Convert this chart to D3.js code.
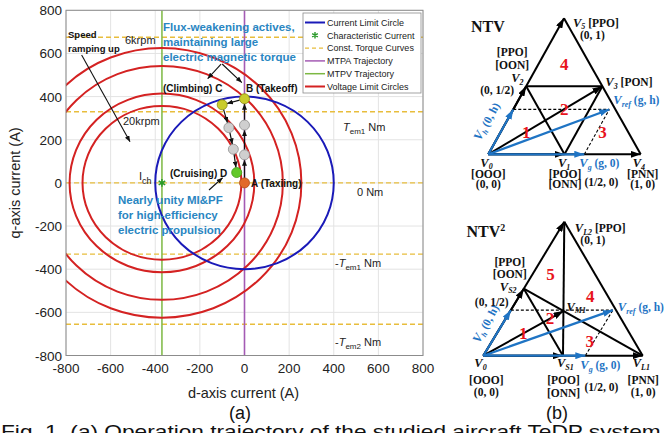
<!DOCTYPE html>
<html>
<head>
<meta charset="utf-8">
<script src="https://cdn.jsdelivr.net/npm/d3@7"></script>
<style>
  body { margin: 0; background: #fff; }
  svg { display: block; }
</style>
</head>
<body>
<svg id="fig" width="668" height="433"></svg>
<script>
// ---------- data for (a) ----------
const xTicks = [-800, -600, -400, -200, 0, 200, 400, 600, 800];
const yTicks = [-800, -600, -400, -200, 0, 200, 400, 600, 800];
const iCh = -370;                         // characteristic current (d-axis)
const currentLimitRadius = 400;
const voltageRadii = [625, 542, 414, 356]; // 6krpm ... 20krpm
const torqueLevels = [675, 330, 0, -330, -655];
const mtpaD = 0;

// operating trajectory A -> B -> C -> D
const trajD = [0, 0, 0, 0, -100, -70, -50, -35];
const trajQ = [0, 130, 268, 390, 362, 256, 156, 48];
const trajKind = ['A', 'mid', 'mid', 'B', 'C', 'mid', 'mid', 'D'];

const legendItems = ['Current Limit Circle', 'Characteristic Current', 'Const. Torque Curves',
  'MTPA Trajectory', 'MTPV Trajectory', 'Voltage Limit Circles'];

// ---------- data for (b) ----------
const ntvVerts = { V0: [0, 0], V1: [0.5, 0], V2: [0, 0.5], V3: [0.5, 0.5], V4: [1, 0], V5: [0, 1] };
const ntvArrows = [['V0', 'V5'], ['V0', 'V2'], ['V0', 'V4'], ['V0', 'V1'], ['V0', 'V3']];
const ntvLines = [['V5', 'V4'], ['V2', 'V3'], ['V2', 'V1'], ['V1', 'V3']];
const ntvRegions = [['1', 'V0', 'V1', 'V2'], ['2', 'V1', 'V3', 'V2'], ['3', 'V1', 'V4', 'V3'], ['4', 'V2', 'V3', 'V5']];
const ntvRef = [0.63, 0.33];

const ntv2Verts = { V0: [0, 0], VS1: [0.5, 0], VS2: [0, 0.5], VM1: [1 / 3, 1 / 3], VL1: [1, 0], VL2: [0, 1] };
const ntv2Arrows = [['V0', 'VL2'], ['V0', 'VS2'], ['V0', 'VL1'], ['V0', 'VS1'], ['V0', 'VM1']];
const ntv2Lines = [['VL2', 'VL1'], ['VS2', 'VL1'], ['VS2', 'VS1'], ['VL2', 'VS1']];
const ntv2Regions = [['1', 'V0', 'VS1', 'VS2'], ['2', 'VS2', 'VM1', 'VS1'], ['3', 'VS1', 'VL1', 'VM1'],
  ['4', 'VM1', 'VL1', 'VL2'], ['5', 'VS2', 'VM1', 'VL2']];
const ntv2Ref = [0.64, 0.34];

// ---------- setup ----------
const SANS = 'Liberation Sans, Arial, sans-serif';
const SERIF = 'Liberation Serif, Times New Roman, serif';
const BLUE_TXT = '#2a86c2';
const DIAG_BLUE = '#1f74c4';

const svg = d3.select('#fig');
const defs = svg.append('defs');

function addMarker(id, color, len, wid) {
  defs.append('marker')
    .attr('id', id)
    .attr('viewBox', `0 0 ${len} ${wid}`)
    .attr('refX', len).attr('refY', wid / 2)
    .attr('markerWidth', len).attr('markerHeight', wid)
    .attr('markerUnits', 'userSpaceOnUse')
    .attr('orient', 'auto')
    .append('path')
    .attr('d', `M0,0L${len},${wid / 2}L0,${wid}Z`)
    .attr('fill', color);
}
addMarker('ahSmall', '#111', 6, 5);
addMarker('ahBlack', '#000', 10, 7);
addMarker('ahBlue', DIAG_BLUE, 10, 7);

// ---------- (a) plot ----------
const x = d3.scaleLinear().domain([-800, 800]).range([66, 423]);
const y = d3.scaleLinear().domain([-800, 800]).range([355.5, 10.3]);

const plot = svg.append('g');

plot.append('clipPath').attr('id', 'clipA')
  .append('rect')
  .attr('x', x(-800)).attr('y', y(800))
  .attr('width', x(800) - x(-800)).attr('height', y(-800) - y(800));

// grid
plot.append('g').selectAll('line').data(xTicks).join('line')
  .attr('x1', d => x(d)).attr('x2', d => x(d))
  .attr('y1', y(-800)).attr('y2', y(800))
  .attr('stroke', '#e3e3e3').attr('stroke-width', 1);
plot.append('g').selectAll('line').data(yTicks).join('line')
  .attr('y1', d => y(d)).attr('y2', d => y(d))
  .attr('x1', x(-800)).attr('x2', x(800))
  .attr('stroke', '#e3e3e3').attr('stroke-width', 1);

const inner = plot.append('g').attr('clip-path', 'url(#clipA)');

// torque curves
inner.append('g').selectAll('line').data(torqueLevels).join('line')
  .attr('x1', x(-800)).attr('x2', x(800))
  .attr('y1', d => y(d)).attr('y2', d => y(d))
  .attr('stroke', '#e8bd3c').attr('stroke-width', 1.4)
  .attr('stroke-dasharray', '5,3');

// MTPV and MTPA
inner.append('line')
  .attr('x1', x(iCh)).attr('x2', x(iCh)).attr('y1', y(-800)).attr('y2', y(800))
  .attr('stroke', '#7cb842').attr('stroke-width', 1.5);
inner.append('line')
  .attr('x1', x(mtpaD)).attr('x2', x(mtpaD)).attr('y1', y(-800)).attr('y2', y(800))
  .attr('stroke', '#a45bb4').attr('stroke-width', 1.6);

// voltage limit circles
inner.append('g').selectAll('ellipse').data(voltageRadii).join('ellipse')
  .attr('cx', x(iCh)).attr('cy', y(0))
  .attr('rx', d => x(d) - x(0)).attr('ry', d => y(0) - y(d))
  .attr('fill', 'none').attr('stroke', '#d42222').attr('stroke-width', 2);

// current limit circle
inner.append('ellipse')
  .attr('cx', x(0)).attr('cy', y(0))
  .attr('rx', x(currentLimitRadius) - x(0)).attr('ry', y(0) - y(currentLimitRadius))
  .attr('fill', 'none').attr('stroke', '#1a1ab8').attr('stroke-width', 2);

// characteristic current marker
inner.append('path')
  .attr('transform', `translate(${x(iCh)},${y(0)})`)
  .attr('d', d3.symbol(d3.symbolAsterisk, 40)())
  .attr('fill', 'none').attr('stroke', '#2a9a2a').attr('stroke-width', 1.5);

// axes box
plot.append('rect')
  .attr('x', x(-800)).attr('y', y(800))
  .attr('width', x(800) - x(-800)).attr('height', y(-800) - y(800))
  .attr('fill', 'none').attr('stroke', '#8c8c8c').attr('stroke-width', 1);

// tick labels
plot.append('g').selectAll('text').data(xTicks).join('text')
  .attr('x', d => x(d)).attr('y', y(-800) + 17)
  .attr('text-anchor', 'middle')
  .style('font', `13.5px ${SANS}`).attr('fill', '#222')
  .text(d => d);
plot.append('g').selectAll('text').data(yTicks).join('text')
  .attr('x', x(-800) - 4).attr('y', d => y(d) + 5)
  .attr('text-anchor', 'end')
  .style('font', `13.5px ${SANS}`).attr('fill', '#222')
  .text(d => d);

plot.append('text')
  .attr('x', x(0) - 1).attr('y', 398)
  .attr('text-anchor', 'middle')
  .style('font', `14.5px ${SANS}`).attr('fill', '#222')
  .text('d-axis current (A)');
plot.append('text')
  .attr('transform', `translate(20,${y(0)}) rotate(-90)`)
  .attr('text-anchor', 'middle')
  .style('font', `14.5px ${SANS}`).attr('fill', '#222')
  .text('q-axis current (A)');
plot.append('text')
  .attr('x', 240).attr('y', 419)
  .attr('text-anchor', 'middle')
  .style('font', `18px ${SANS}`).attr('fill', '#111')
  .text('(a)');

// torque labels
const torqueLabels = [
  { q: 330, sign: '', sub: 'em1', dy: 19, px: 343 },
  { q: 0, zero: true, dy: 13, px: 357 },
  { q: -330, sign: '-', sub: 'em1', dy: 13, px: 335 },
  { q: -655, sign: '-', sub: 'em2', dy: 22, px: 335 }
];
torqueLabels.forEach(l => {
  const t = plot.append('text')
    .attr('x', l.px).attr('y', y(l.q) + l.dy)
    .style('font', `11px ${SANS}`).attr('fill', '#222');
  if (l.zero) { t.text('0 Nm'); return; }
  t.append('tspan').text(l.sign);
  t.append('tspan').attr('font-style', 'italic').text('T');
  t.append('tspan').attr('dy', 3).style('font-size', '8px').text(l.sub);
  t.append('tspan').attr('dy', -3).text(' Nm');
});

// trajectory arrows
const traj = trajD.map((d, i) => ({ d, q: trajQ[i], k: trajKind[i] }));
const trajLinks = d3.pairs(traj);
plot.append('g').selectAll('line').data(trajLinks).join('line')
  .each(function ([a, b]) {
    const x1 = x(a.d), y1 = y(a.q), x2 = x(b.d), y2 = y(b.q);
    const len = Math.hypot(x2 - x1, y2 - y1);
    const ux = (x2 - x1) / len, uy = (y2 - y1) / len;
    d3.select(this)
      .attr('x1', x1 + ux * 5).attr('y1', y1 + uy * 5)
      .attr('x2', x2 - ux * 5).attr('y2', y2 - uy * 5);
  })
  .attr('stroke', '#111').attr('stroke-width', 1.2)
  .attr('marker-end', 'url(#ahSmall)');

const trajFill = { A: '#e2692a', B: '#c9cc2c', C: '#c9cc2c', D: '#62c82a', mid: '#cfcfcf' };
const trajStroke = { A: '#b04a14', B: '#8a8c10', C: '#8a8c10', D: '#3f9a16', mid: '#8f8f8f' };
plot.append('g').selectAll('circle').data(traj).join('circle')
  .attr('cx', p => x(p.d)).attr('cy', p => y(p.q)).attr('r', 5)
  .attr('fill', p => trajFill[p.k]).attr('stroke', p => trajStroke[p.k]).attr('stroke-width', 0.8);

// annotation arrows (in data coordinates)
const annArrows = [
  [[-730, 593], [-513, 191]],
  [[-105, 551], [-165, 483]],
  [[-100, 551], [-12, 465]],
  [[-159, -33], [-98, 24]]
];
plot.append('g').selectAll('line').data(annArrows).join('line')
  .attr('x1', a => x(a[0][0])).attr('y1', a => y(a[0][1]))
  .attr('x2', a => x(a[1][0])).attr('y2', a => y(a[1][1]))
  .attr('stroke', '#111').attr('stroke-width', 1.1)
  .attr('marker-end', 'url(#ahSmall)');

// annotation texts
function txt(g, xx, yy, s, font, fill, anchor) {
  return g.append('text').attr('x', xx).attr('y', yy)
    .attr('text-anchor', anchor || 'start')
    .style('font', font).attr('fill', fill || '#111').text(s);
}
txt(plot, 68, 38, 'Speed', `bold 9.5px ${SANS}`);
txt(plot, 68, 52, 'ramping up', `bold 9.5px ${SANS}`);
txt(plot, 125, 44, '6krpm', `11px ${SANS}`, '#222');
txt(plot, 123, 125, '20krpm', `11px ${SANS}`, '#222');
txt(plot, 163, 31, 'Flux-weakening actives,', `bold 11.5px ${SANS}`, BLUE_TXT);
txt(plot, 163, 46, 'maintaining large', `bold 11.5px ${SANS}`, BLUE_TXT);
txt(plot, 163, 61, 'electric magnetic torque', `bold 11.5px ${SANS}`, BLUE_TXT);
txt(plot, 163, 92, '(Climbing) C', `bold 10px ${SANS}`);
txt(plot, 246, 92, 'B (Takeoff)', `bold 10px ${SANS}`);
txt(plot, 170, 176.5, '(Cruising) D', `bold 10px ${SANS}`);
txt(plot, 251, 187, 'A (Taxiing)', `bold 10px ${SANS}`);
txt(plot, 118, 204, 'Nearly unity MI&PF', `bold 11.5px ${SANS}`, BLUE_TXT);
txt(plot, 118, 219, 'for high-efficiency', `bold 11.5px ${SANS}`, BLUE_TXT);
txt(plot, 118, 234, 'electric propulsion', `bold 11.5px ${SANS}`, BLUE_TXT);
const ich = txt(plot, 139, 180, 'I', `11px ${SANS}`, '#222');
ich.append('tspan').attr('dy', 4).style('font-size', '9px').text('ch');

// legend
const leg = plot.append('g');
leg.append('rect').attr('x', 303).attr('y', 13).attr('width', 118).attr('height', 80)
  .attr('fill', '#fff').attr('stroke', '#8c8c8c').attr('stroke-width', 0.8);
const legStyles = [
  { c: '#1a1ab8', w: 2 }, { marker: true }, { c: '#e8bd3c', w: 1.4, dash: '4,3' },
  { c: '#a45bb4', w: 1.5 }, { c: '#7cb842', w: 1.5 }, { c: '#d42222', w: 2 }
];
const legRows = leg.selectAll('g').data(legendItems).join('g')
  .attr('transform', (d, i) => `translate(305,${22.5 + i * 12.8})`);
legRows.each(function (d, i) {
  const g = d3.select(this), s = legStyles[i];
  if (s.marker) {
    g.append('path').attr('transform', 'translate(10,0)')
      .attr('d', d3.symbol(d3.symbolAsterisk, 30)())
      .attr('fill', 'none').attr('stroke', '#2a9a2a').attr('stroke-width', 1.4);
  } else {
    g.append('line').attr('x1', 0).attr('x2', 20).attr('y1', 0).attr('y2', 0)
      .attr('stroke', s.c).attr('stroke-width', s.w).attr('stroke-dasharray', s.dash || null);
  }
  g.append('text').attr('x', 22).attr('y', 3.2)
    .style('font', `9px ${SANS}`).attr('fill', '#222').text(d);
});

// ---------- (b) diagrams ----------
function drawDiagram(opt) {
  const g = svg.append('g');
  const sx = d3.scaleLinear().domain([0, 1]).range([opt.x0, opt.x1]);
  const sy = d3.scaleLinear().domain([0, 1]).range([opt.y0, opt.yTop]);
  const skew = (opt.xTop - opt.x0) / (opt.x1 - opt.x0);
  const P = ([gg, hh]) => [sx(gg + hh * skew), sy(hh)];
  const V = name => P(opt.verts[name]);

  // plain lines
  g.append('g').selectAll('line').data(opt.lines).join('line')
    .attr('x1', d => V(d[0])[0]).attr('y1', d => V(d[0])[1])
    .attr('x2', d => V(d[1])[0]).attr('y2', d => V(d[1])[1])
    .attr('stroke', '#000').attr('stroke-width', 2);
  // black vectors
  g.append('g').selectAll('line').data(opt.arrows).join('line')
    .attr('x1', d => V(d[0])[0]).attr('y1', d => V(d[0])[1])
    .attr('x2', d => V(d[1])[0]).attr('y2', d => V(d[1])[1])
    .attr('stroke', '#000').attr('stroke-width', 2)
    .attr('marker-end', 'url(#ahBlack)');

  // reference decomposition
  const [rg, rh] = opt.ref;
  const dashed = [[[0, rh], [rg, rh]], [[rg, 0], [rg, rh]]];
  g.append('g').selectAll('line').data(dashed).join('line')
    .attr('x1', d => P(d[0])[0]).attr('y1', d => P(d[0])[1])
    .attr('x2', d => P(d[1])[0]).attr('y2', d => P(d[1])[1])
    .attr('stroke', '#000').attr('stroke-width', 1.1).attr('stroke-dasharray', '3,2');
  const blue = [[0, rh], [rg, 0], [rg, rh]];
  g.append('g').selectAll('line').data(blue).join('line')
    .attr('x1', P([0, 0])[0]).attr('y1', P([0, 0])[1])
    .attr('x2', d => P(d)[0]).attr('y2', d => P(d)[1])
    .attr('stroke', DIAG_BLUE).attr('stroke-width', 2.2)
    .attr('marker-end', 'url(#ahBlue)');

  // region numbers at sub-triangle centroids
  g.append('g').selectAll('text').data(opt.regions).join('text')
    .attr('x', d => d3.mean(d.slice(1), n => V(n)[0]))
    .attr('y', d => d3.mean(d.slice(1), n => V(n)[1]) + 6)
    .attr('text-anchor', 'middle')
    .style('font', `bold 17px ${SERIF}`).attr('fill', '#e8141c')
    .text(d => d[0]);

  // labels
  opt.labels.forEach(l => {
    const base = l.at === 'ref' ? P(opt.ref) : l.at === 'g' ? P([rg, 0]) : V(l.at);
    const t = g.append('text')
      .attr('x', base[0] + l.dx).attr('y', base[1] + l.dy)
      .attr('text-anchor', l.anchor || 'start')
      .style('font', `bold 11.5px ${SERIF}`).attr('fill', l.blue ? DIAG_BLUE : '#111');
    if (l.rot) t.attr('transform', `rotate(${l.rot},${base[0] + l.dx},${base[1] + l.dy})`);
    if (l.v) {
      t.append('tspan').attr('font-style', 'italic').style('font-size', '12.5px').text('V');
      t.append('tspan').attr('dy', 2.5).attr('font-style', 'italic').style('font-size', '8px').text(l.v);
      t.append('tspan').attr('dy', -2.5).text(l.s || '');
    } else {
      t.text(l.s);
    }
  });

  g.append('text').attr('x', opt.title.x).attr('y', opt.title.y)
    .style('font', `bold 16px ${SERIF}`).attr('fill', '#111')
    .text(opt.title.s)
    .call(t => { if (opt.title.sup) t.append('tspan').attr('dy', -6).style('font-size', '10px').text(opt.title.sup); });
  return g;
}

drawDiagram({
  x0: 488.3, x1: 640.7, y0: 154.3, yTop: 18.3, xTop: 564,
  verts: ntvVerts, arrows: ntvArrows, lines: ntvLines, regions: ntvRegions, ref: ntvRef,
  title: { x: 471, y: 32, s: 'NTV' },
  labels: [
    { at: 'V5', dx: 9, dy: 8.5, v: '5', s: ' [PPO]' },
    { at: 'V5', dx: 16, dy: 21, s: '(0, 1)' },
    { at: 'V2', dx: -14, dy: -30, s: '[PPO]', anchor: 'middle' },
    { at: 'V2', dx: -14, dy: -17, s: '[OON]', anchor: 'middle' },
    { at: 'V2', dx: -15, dy: -4, v: '2' },
    { at: 'V2', dx: -46, dy: 8, s: '(0, 1/2)' },
    { at: 'V3', dx: 3, dy: 0, v: '3', s: ' [PON]' },
    { at: 'ref', dx: 4, dy: -5, v: 'ref', s: ' (g, h)', blue: true },
    { at: 'V0', dx: 2, dy: -31, v: 'h', s: ' (0, h)', blue: true, rot: -61, anchor: 'middle' },
    { at: 'V0', dx: -8, dy: 12.5, v: '0' },
    { at: 'V0', dx: 0, dy: 24, s: '[OOO]', anchor: 'middle' },
    { at: 'V0', dx: 0, dy: 34, s: '(0, 0)', anchor: 'middle' },
    { at: 'V1', dx: -6.5, dy: 13, v: '1' },
    { at: 'V1', dx: 0.5, dy: 24, s: '[POO]', anchor: 'middle' },
    { at: 'V1', dx: 0.5, dy: 34, s: '[ONN]', anchor: 'middle' },
    { at: 'g', dx: -5, dy: 13, v: 'g', s: ' (g, 0)', blue: true },
    { at: 'V1', dx: 20, dy: 31.5, s: '(1/2, 0)' },
    { at: 'V4', dx: -8, dy: 13, v: '4' },
    { at: 'V4', dx: 2, dy: 24, s: '[PNN]', anchor: 'middle' },
    { at: 'V4', dx: 2, dy: 34, s: '(1, 0)', anchor: 'middle' }
  ]
});

drawDiagram({
  x0: 483.3, x1: 642.7, y0: 355.7, yTop: 221.7, xTop: 564.3,
  verts: ntv2Verts, arrows: ntv2Arrows, lines: ntv2Lines, regions: ntv2Regions, ref: ntv2Ref,
  title: { x: 466.5, y: 237, s: 'NTV', sup: '2' },
  labels: [
    { at: 'VL2', dx: 10.5, dy: 10.5, v: 'L2', s: ' [PPO]' },
    { at: 'VL2', dx: 16, dy: 22, s: '(0, 1)' },
    { at: 'VS2', dx: -14, dy: -23, s: '[PPO]', anchor: 'middle' },
    { at: 'VS2', dx: -14, dy: -11, s: '[OON]', anchor: 'middle' },
    { at: 'VS2', dx: -24, dy: 2, v: 'S2' },
    { at: 'VS2', dx: -49, dy: 17, s: '(0, 1/2)' },
    { at: 'VM1', dx: 3, dy: -0.5, v: 'M1' },
    { at: 'ref', dx: 5, dy: 1, v: 'ref', s: ' (g, h)', blue: true },
    { at: 'V0', dx: 6, dy: -30, v: 'h', s: ' (0, h)', blue: true, rot: -61, anchor: 'middle' },
    { at: 'V0', dx: -9, dy: 11.5, v: '0' },
    { at: 'V0', dx: 3, dy: 28, s: '[OOO]', anchor: 'middle' },
    { at: 'V0', dx: 3, dy: 40, s: '(0, 0)', anchor: 'middle' },
    { at: 'VS1', dx: -6, dy: 11.5, v: 'S1' },
    { at: 'VS1', dx: 0.5, dy: 28, s: '[POO]', anchor: 'middle' },
    { at: 'VS1', dx: 0.5, dy: 41, s: '[ONN]', anchor: 'middle' },
    { at: 'g', dx: -5, dy: 13.5, v: 'g', s: ' (g, 0)', blue: true },
    { at: 'VS1', dx: 21.5, dy: 35, s: '(1/2, 0)' },
    { at: 'VL1', dx: -10, dy: 11.5, v: 'L1' },
    { at: 'VL1', dx: 0.5, dy: 28, s: '[PNN]', anchor: 'middle' },
    { at: 'VL1', dx: 0.5, dy: 40, s: '(1, 0)', anchor: 'middle' }
  ]
});

svg.append('text')
  .attr('x', 557).attr('y', 419)
  .attr('text-anchor', 'middle')
  .style('font', `18px ${SANS}`).attr('fill', '#111')
  .text('(b)');

// caption (cut off by the frame, as in the source figure)
svg.append('text')
  .attr('x', 1).attr('y', 438)
  .attr('textLength', 700).attr('lengthAdjust', 'spacingAndGlyphs')
  .style('font', `19px ${SANS}`).attr('fill', '#111')
  .text('Fig. 1. (a) Operation trajectory of the studied aircraft TeDP system. (b)');
</script>
</body>
</html>
